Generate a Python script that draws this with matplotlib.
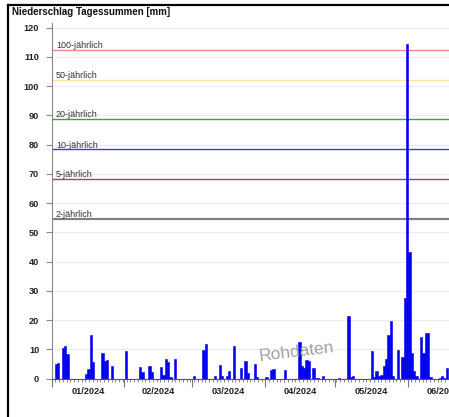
import numpy as np
import matplotlib.pyplot as plt
from matplotlib.lines import Line2D

plt.rcParams['font.family'] = ['Liberation Sans', 'DejaVu Sans']

# Tagessummen, Tag 0 = 01.01.2024
days = [1, 2, 4, 5, 6, 14, 15, 16, 17, 21, 22, 23, 25, 31, 37, 38, 41, 42,
        46, 47, 48, 49, 50, 52, 60, 64, 65, 69, 71, 72, 74, 75, 77, 80, 82,
        83, 86, 87, 91, 93, 94, 99, 105, 106, 107, 108, 109, 111, 112, 113,
        115, 122, 126, 127, 128, 136, 137, 138, 139, 140, 141, 142, 143, 144,
        145, 147, 149, 150, 151, 152, 153, 154, 155, 157, 158, 159, 160, 161,
        165, 166, 167, 168]
rain_mm = [5.2, 5.5, 10.6, 11.1, 8.4, 1.5, 3.4, 15.0, 5.7, 8.8, 6.2, 6.5,
           4.2, 9.4, 3.9, 2.2, 4.3, 2.2, 3.9, 1.4, 6.7, 5.6, 0.6, 6.7, 1.1,
           9.9, 11.7, 0.8, 4.6, 0.8, 1.1, 2.6, 11.1, 3.6, 6.0, 1.9, 5.0, 0.5,
           0.5, 3.0, 3.4, 3.0, 12.5, 4.5, 3.8, 6.5, 6.0, 3.6, 0.3, 0.3, 1.1,
           0.3, 21.3, 0.5, 0.9, 9.5, 0.6, 2.6, 1.1, 1.3, 4.2, 6.6, 14.9, 19.9,
           1.1, 9.9, 7.3, 27.5, 114.3, 43.4, 8.7, 2.6, 0.8, 14.4, 8.7, 15.8,
           15.8, 0.5, 0.3, 0.8, 0.4, 3.6]

month_starts = [0, 31, 60, 91, 121, 152]
month_days = [31, 29, 31, 30, 31, 30]
month_labels = ["01/2024", "02/2024", "03/2024", "04/2024", "05/2024", "06/2024"]

rp_labels = ["100-jährlich", "50-jährlich", "20-jährlich", "10-jährlich",
             "5-jährlich", "2-jährlich"]
rp_values = [112.5, 102.1, 88.8, 78.4, 68.2, 54.7]
rp_colors = ["#f28a8a", "#ffe39a", "#4a9a4a", "#3c3cd8", "#9a3c9a", "#808080"]
rp_widths = [1.0, 1.0, 1.0, 1.0, 1.0, 1.6]

fig = plt.figure(figsize=(4.49, 4.17), dpi=100)
ax = fig.add_axes([0.1151, 0.0918, 0.9129, 0.8523])

for v in range(0, 121, 10):
    ax.axhline(v, color="#ececec", lw=0.8, zorder=0)

for lab, val, col, w in zip(rp_labels, rp_values, rp_colors, rp_widths):
    ax.axhline(val, color=col, lw=w, zorder=1)
    ax.text(1.8, val + 0.6, lab, fontsize=6.5, color="#333333",
            va="baseline", ha="left", zorder=2)

ax.bar(np.array(days) + 0.75, rain_mm, width=1.0, color="#0000f0",
       edgecolor="#0000f0", linewidth=0.4, zorder=3)

ax.set_xlim(0, 175)
ax.set_ylim(0, 121.5)

ax.set_yticks(range(0, 121, 10))
ax.set_yticklabels([str(v) for v in range(0, 121, 10)], fontsize=6.6,
                   fontweight="bold", color="#222222")
ax.tick_params(axis="y", length=4.5, color="#888888", pad=4.5)

ax.set_xticks(month_starts)
ax.set_xticklabels([])
ax.set_xticks(np.arange(0, 175, 1.6), minor=True)
ax.tick_params(axis="x", which="major", length=5.5, color="#777777")
ax.tick_params(axis="x", which="minor", length=2, color="#777777")

for s, d, lab in zip(month_starts, month_days, month_labels):
    ax.text(s + d / 2, -0.037, lab, transform=ax.get_xaxis_transform(),
            ha="center", va="center", fontsize=6.6, fontweight="bold",
            color="#222222", clip_on=False)

ax.spines["top"].set_visible(False)
ax.spines["right"].set_visible(False)
ax.spines["left"].set_color("#888888")
ax.spines["bottom"].set_color("#555555")

ax.text(104.7, 9.1, "Rohdaten", fontsize=12.5, color="#a0a0a0",
        rotation=7, ha="center", va="center", zorder=4)

fig.text(12 / 449, 1 - 12 / 417, "Niederschlag Tagessummen [mm]",
         fontsize=7, fontweight="bold", color="#111111",
         ha="left", va="center")

# Rahmen oben und links
fig.add_artist(Line2D([8 / 449, 1], [1 - 4.5 / 417, 1 - 4.5 / 417],
                      color="black", lw=1.6, transform=fig.transFigure))
fig.add_artist(Line2D([8 / 449, 8 / 449], [0, 1 - 4.5 / 417],
                      color="black", lw=1.6, transform=fig.transFigure))

fig.savefig("out.png", dpi=100)
